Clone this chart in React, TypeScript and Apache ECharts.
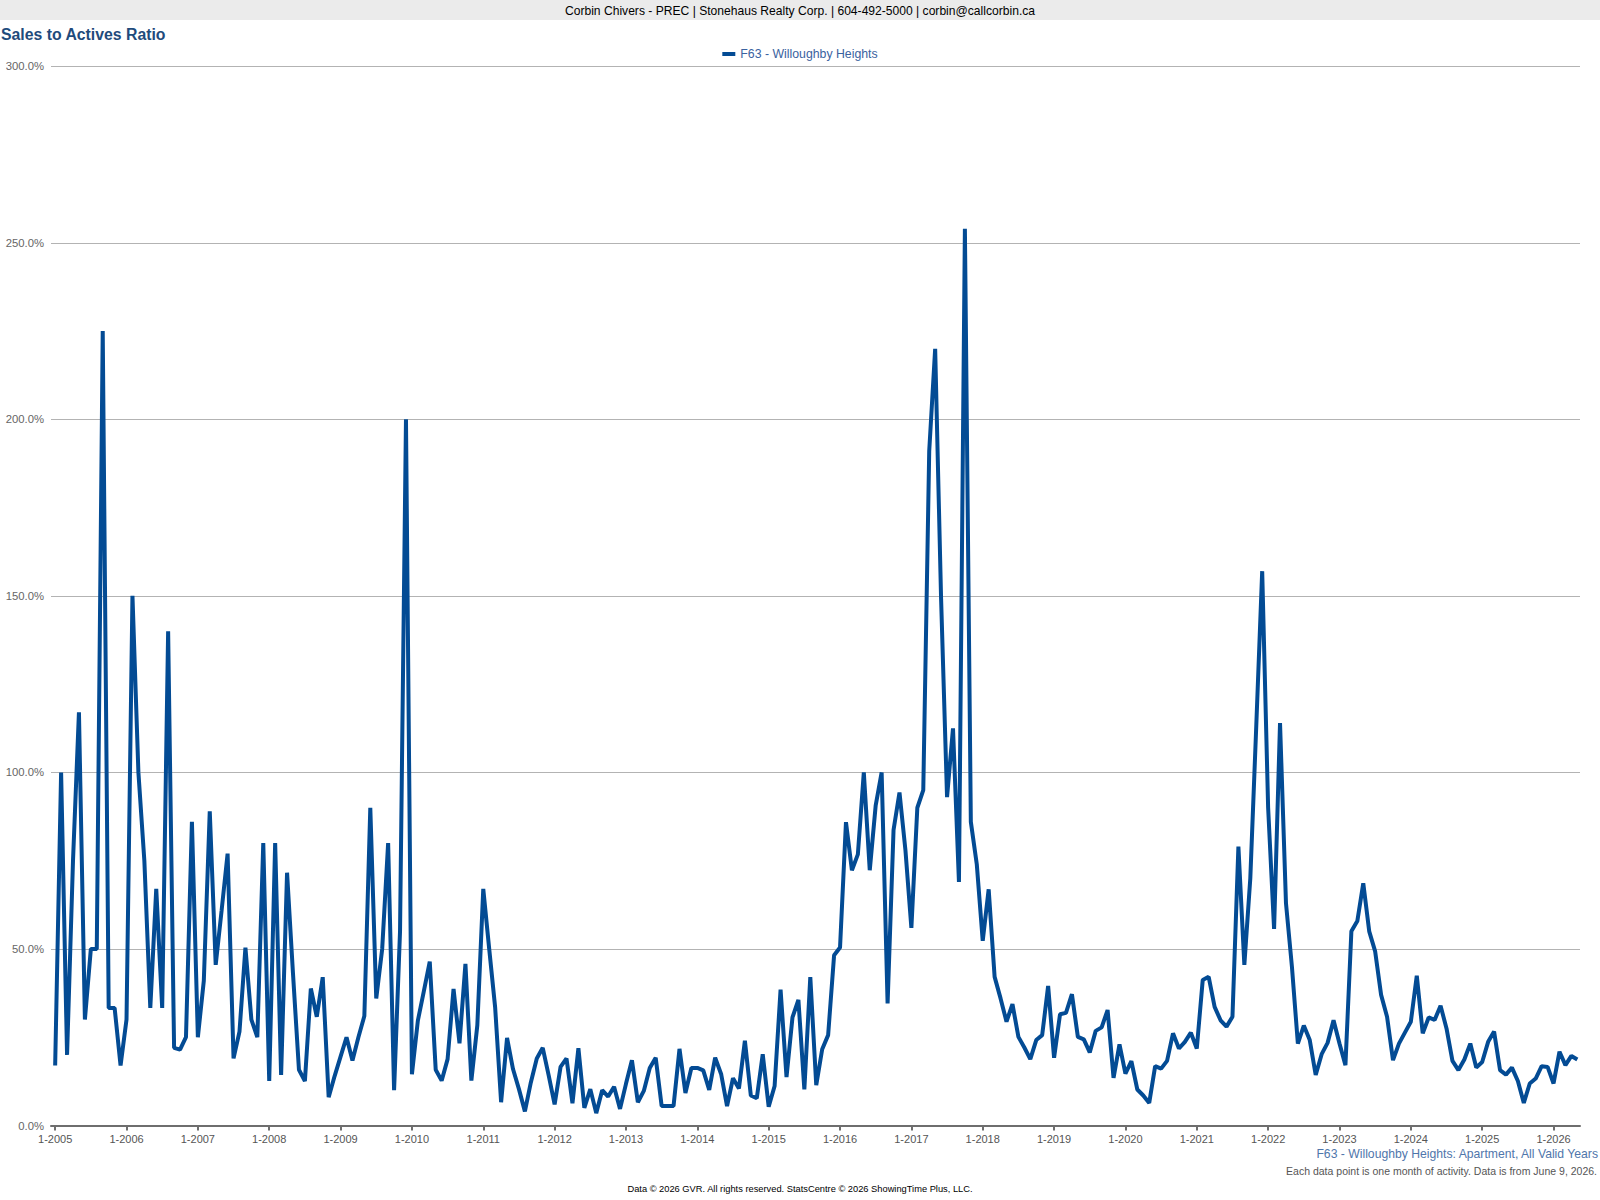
import React, { useEffect, useRef } from "react";
import * as echarts from "echarts";

// Monthly Sales-to-Actives ratio (%), F63 - Willoughby Heights, Jan 2005 .. May 2026
const v2005 = [17, 100, 20, 75, 117, 30, 50, 50, 225, 33.3, 33.3, 17];
const v2006 = [30, 150, 100, 75, 33.3, 67, 33.3, 140, 22, 21.5, 25, 86];
const v2007 = [25, 41, 89, 45.5, 61, 77, 19, 26.6, 50.4, 30, 25, 80];
const v2008 = [12.6, 80, 14.3, 71.6, 43, 15.8, 12.6, 38.8, 30.8, 42, 8, 14];
const v2009 = [19.5, 25, 18.4, 25, 31, 90, 36, 50, 80, 10, 55, 200];
const v2010 = [14.5, 29.7, 38, 46.4, 15.8, 12.7, 18.8, 38.7, 23.3, 45.8, 12.7, 28.4];
const v2011 = [67, 50, 33.4, 6.6, 24.8, 16, 10.3, 4, 12.2, 19, 22, 14.2];
const v2012 = [6, 16.6, 19, 6.3, 21.9, 5, 10.3, 3.5, 10, 8.2, 11, 4.7];
const v2013 = [11.8, 18.5, 6.6, 9.8, 16.3, 19.2, 5.5, 5.5, 5.5, 21.7, 9.2, 16.3];
const v2014 = [16.3, 15.6, 10.1, 19.2, 14.6, 5.5, 13.4, 10.5, 24, 8.5, 7.7, 20.2];
const v2015 = [5.3, 11.2, 38.5, 13.7, 30.6, 35.6, 10.2, 42, 11.4, 21.6, 25.6, 48.2];
const v2016 = [50.4, 85.9, 72.3, 76.8, 100, 72.3, 90.7, 100, 34.6, 83.7, 94.3, 78];
const v2017 = [56, 90, 95, 191, 220, 149, 93, 112.5, 69, 254, 86, 74];
const v2018 = [52.3, 66.9, 42.1, 36, 29.4, 34.4, 25.1, 22.1, 18.8, 24.2, 25.6, 39.5];
const v2019 = [19.2, 31.5, 31.9, 37.2, 25.1, 24.4, 20.7, 26.8, 27.8, 32.7, 13.5, 23];
const v2020 = [14.7, 18.2, 10.2, 8.5, 6.4, 16.8, 16.1, 18.3, 26.1, 21.8, 23.7, 26.3];
const v2021 = [21.8, 41.2, 42.1, 33.6, 29.8, 28, 30.8, 79, 45.5, 70, 113, 157];
const v2022 = [90, 55.7, 114, 63, 45, 23.2, 28.3, 24.2, 14.3, 20.2, 23.4, 29.8];
const v2023 = [23.2, 17.1, 55, 57.9, 68.6, 55, 49.3, 37, 30.8, 18.5, 23.2, 26.3];
const v2024 = [29.4, 42.4, 26.1, 30.6, 29.9, 33.9, 27.5, 18.3, 15.7, 18.7, 23.2, 16.4];
const v2025 = [18, 23.7, 26.6, 15.7, 14.4, 16.4, 12.6, 6.4, 11.9, 13.3, 16.8, 16.6];
const v2026 = [11.9, 20.9, 17.1, 19.7, 18.7];

const firstYear = 2005;
const tickYears = [2005, 2006, 2007, 2008, 2009, 2010, 2011, 2012, 2013, 2014, 2015, 2016, 2017, 2018, 2019, 2020, 2021, 2022, 2023, 2024, 2025, 2026];
const yTicks = [0, 50, 100, 150, 200, 250, 300];

const seriesName = "F63 - Willoughby Heights";
const headerText = "Corbin Chivers - PREC | Stonehaus Realty Corp. | 604-492-5000 | corbin@callcorbin.ca";
const titleText = "Sales to Actives Ratio";
const subText = "F63 - Willoughby Heights: Apartment, All Valid Years";
const noteText = "Each data point is one month of activity. Data is from June 9, 2026.";
const copyText = "Data © 2026 GVR. All rights reserved. StatsCentre © 2026 ShowingTime Plus, LLC.";

const FONT = "'Liberation Sans', Arial, Helvetica, sans-serif";

export default function App() {
  const ref = useRef<HTMLDivElement>(null);

  useEffect(() => {
    if (!ref.current) return;
    const chart = echarts.init(ref.current, undefined, { renderer: "svg" });
    const values = [
      ...v2005, ...v2006, ...v2007, ...v2008, ...v2009, ...v2010, ...v2011,
      ...v2012, ...v2013, ...v2014, ...v2015, ...v2016, ...v2017, ...v2018,
      ...v2019, ...v2020, ...v2021, ...v2022, ...v2023, ...v2024, ...v2025, ...v2026,
    ];
    const data = values.map((v, i) => [i, v]);
    const tickMonths = tickYears.map((y) => (y - firstYear) * 12);

    chart.setOption({
      animation: false,
      backgroundColor: "#ffffff",
      textStyle: { fontFamily: FONT },
      title: [
        {
          text: titleText,
          left: 1,
          top: 26,
          padding: 0,
          textStyle: { fontSize: 15.8, fontWeight: "bold", color: "#1f4b7c", fontFamily: FONT },
        },
      ],
      legend: {
        data: [seriesName],
        top: 48,
        left: "center",
        icon: "rect",
        itemWidth: 13,
        itemHeight: 4,
        itemGap: 6,
        padding: 0,
        textStyle: { fontSize: 12.3, color: "#3a62a0", fontFamily: FONT },
      },
      grid: { left: 51, right: 20, top: 66.3, bottom: 74.5, containLabel: false },
      xAxis: {
        type: "value",
        min: -0.7,
        max: 256.45,
        axisLine: { show: true, lineStyle: { color: "#6e6e6e", width: 2 } },
        axisTick: {
          show: true,
          customValues: tickMonths,
          length: 5,
          lineStyle: { color: "#6e6e6e", width: 2 },
        },
        axisLabel: {
          customValues: tickMonths,
          formatter: (v: number) => "1-" + (firstYear + Math.round(v / 12)),
          color: "#555555",
          fontSize: 11,
          margin: 8,
          fontFamily: FONT,
        },
        splitLine: { show: false },
      },
      yAxis: {
        type: "value",
        min: 0,
        max: 300,
        interval: 50,
        axisLine: { show: false },
        axisTick: { show: false },
        axisLabel: {
          customValues: yTicks,
          formatter: (v: number) => v.toFixed(1) + "%",
          color: "#666666",
          fontSize: 11.3,
          margin: 7,
          fontFamily: FONT,
        },
        splitLine: { show: true, lineStyle: { color: "#b3b3b3", width: 1 } },
      },
      series: [
        {
          name: seriesName,
          type: "line",
          data,
          showSymbol: false,
          symbol: "none",
          lineStyle: { color: "#034b94", width: 4 },
          itemStyle: { color: "#034b94" },
          z: 3,
        },
      ],
      graphic: [
        {
          type: "rect",
          shape: { x: 0, y: 0, width: 1600, height: 20 },
          style: { fill: "#ebebeb" },
          silent: true,
        },
        {
          type: "text",
          x: 800,
          y: 10.5,
          style: {
            text: headerText,
            fontSize: 12.1,
            fill: "#000000",
            align: "center",
            verticalAlign: "middle",
            fontFamily: FONT,
          },
          silent: true,
        },
        {
          type: "text",
          x: 1598,
          y: 1154,
          style: {
            text: subText,
            fontSize: 12.2,
            fill: "#4f76ab",
            align: "right",
            verticalAlign: "middle",
            fontFamily: FONT,
          },
          silent: true,
        },
        {
          type: "text",
          x: 1597,
          y: 1171,
          style: {
            text: noteText,
            fontSize: 10.5,
            fill: "#555555",
            align: "right",
            verticalAlign: "middle",
            fontFamily: FONT,
          },
          silent: true,
        },
        {
          type: "text",
          x: 800,
          y: 1189,
          style: {
            text: copyText,
            fontSize: 9.3,
            fill: "#000000",
            align: "center",
            verticalAlign: "middle",
            fontFamily: FONT,
          },
          silent: true,
        },
      ],
    });

    return () => {
      chart.dispose();
    };
  }, []);

  return (
    <div
      ref={ref}
      style={{ position: "absolute", left: 0, top: 0, width: 1600, height: 1200, background: "#fff" }}
    />
  );
}
